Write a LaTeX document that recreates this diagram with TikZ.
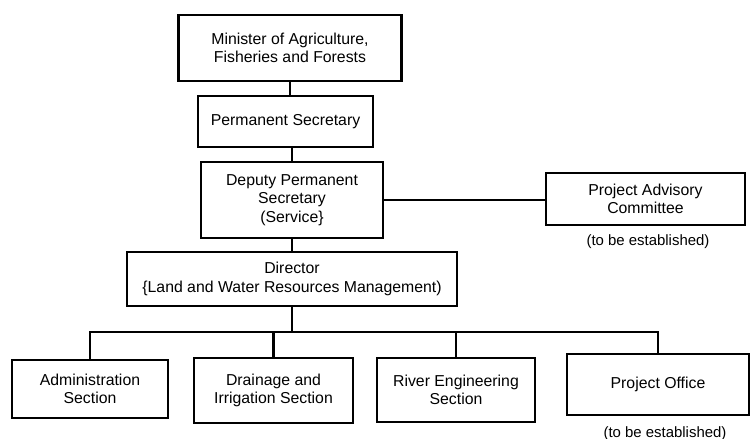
\documentclass[tikz,border=0pt]{standalone}
\usepackage{fontspec}
\setmainfont{Liberation Sans}
\usepackage{tikz}
\usetikzlibrary{positioning}
\tikzset{
  orgbox/.style={draw, line width=1.2pt, align=center, inner sep=2pt,
    font=\fontsize{9}{10.5}\selectfont},
  note/.style={font=\fontsize{8.5}{10}\selectfont},
  link/.style={line width=1.2pt}
}

\begin{document}
\begin{tikzpicture}
  \useasboundingbox (0,0) rectangle (15,-8.78);

  % top of the chain
  \node[orgbox, minimum width=4.46cm, minimum height=1.32cm] (minister) at (5.80,-0.96)
    {Minister of Agriculture,\\Fisheries and Forests};
  \node[orgbox, minimum width=3.5cm, minimum height=1.02cm] (permsec) at (5.71,-2.43)
    {Permanent Secretary};
  \node[orgbox, minimum width=3.64cm, minimum height=1.52cm] (deputy) at (5.84,-4.00)
    {Deputy Permanent\\Secretary\\(Service\}};

  % advisory committee
  \node[orgbox, minimum width=3.98cm, minimum height=1.04cm] (pac) at (12.91,-3.98)
    {Project Advisory\\Committee};
  \node[note] (pacnote) at (12.96,-4.84) {(to be established)};

  % director
  \node[orgbox, minimum width=6.6cm, minimum height=1.08cm] (director) at (5.84,-5.58)
    {Director\\\{Land and Water Resources Management)};

  % sections
  \node[orgbox, minimum width=3.12cm, minimum height=1.16cm] (admin) at (1.80,-7.78)
    {Administration\\Section};
  \node[orgbox, minimum width=3.18cm, minimum height=1.3cm] (drainage) at (5.47,-7.81)
    {Drainage and\\Irrigation Section};
  \node[orgbox, minimum width=3.16cm, minimum height=1.28cm] (river) at (9.12,-7.80)
    {River Engineering\\Section};
  \node[orgbox, minimum width=3.64cm, minimum height=1.22cm] (office) at (13.16,-7.69)
    {Project Office};
  \node[note] (officenote) at (13.3,-8.68) {(to be established)};

  % connectors
  \draw[link] (minister.south) -- (minister.south |- permsec.north);
  \draw[link] (deputy.north |- permsec.south) -- (deputy.north);
  \draw[link] (deputy.east) -- (deputy.east -| pac.west);
  \draw[link] (deputy.south) -- (director.north);

  \coordinate (bus) at (0,-6.64);
  \draw[link] (director.south) -- (director.south |- bus);
  \draw[link] (admin.north) |- (bus -| office.north) -- (office.north);
  \draw[link] (drainage.north) -- (drainage.north |- bus);
  \draw[link] (river.north) -- (river.north |- bus);
\end{tikzpicture}
\end{document}
